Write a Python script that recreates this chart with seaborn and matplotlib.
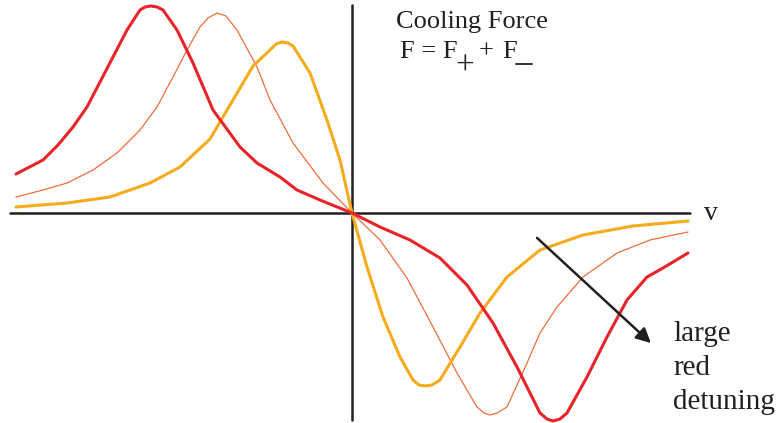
import matplotlib
matplotlib.use('Agg')
import pandas as pd
import seaborn as sns
import matplotlib.pyplot as plt

# velocity / force readings for the three detunings (arbitrary units)
v_red = [-3.36, -3.09, -2.94, -2.79, -2.65, -2.52, -2.39, -2.25, -2.12, -2.07, -2.01, -1.95, -1.89,
         -1.75, -1.59, -1.39, -1.12, -0.95, -0.72, -0.55, -0.32, 0.0, 0.28, 0.58, 0.88, 1.15,
         1.41, 1.65, 1.88, 1.95, 2.01, 2.08, 2.15, 2.35, 2.55, 2.75, 2.95, 3.11, 3.36]
f_red = [0.39, 0.53, 0.68, 0.86, 1.06, 1.31, 1.56, 1.83, 2.03, 2.06, 2.07, 2.06, 2.03,
         1.83, 1.50, 1.03, 0.66, 0.50, 0.36, 0.23, 0.13, 0.0, -0.14, -0.27, -0.45, -0.72,
         -1.10, -1.54, -2.00, -2.06, -2.08, -2.06, -2.00, -1.64, -1.24, -0.87, -0.64, -0.55, -0.40]

v_mid = [-3.36, -3.09, -2.85, -2.59, -2.35, -2.12, -1.95, -1.79, -1.65, -1.52, -1.44, -1.35, -1.26,
         -1.15, -0.95, -0.82, -0.59, -0.29, 0.0, 0.28, 0.55, 0.81, 1.05, 1.25, 1.32, 1.38, 1.45,
         1.55, 1.75, 1.88, 2.05, 2.31, 2.65, 2.98, 3.36]
f_mid = [0.16, 0.23, 0.30, 0.43, 0.60, 0.83, 1.06, 1.36, 1.63, 1.86, 1.95, 2.00, 1.97,
         1.83, 1.46, 1.13, 0.70, 0.30, 0.0, -0.27, -0.65, -1.14, -1.60, -1.94, -2.00, -2.02, -2.00,
         -1.94, -1.50, -1.20, -0.94, -0.64, -0.40, -0.27, -0.19]

v_small = [-3.36, -2.85, -2.42, -2.02, -1.72, -1.42, -1.19, -0.99, -0.82, -0.76, -0.70, -0.64,
           -0.59, -0.42, -0.25, -0.12, 0.0, 0.15, 0.31, 0.48, 0.61, 0.67, 0.73, 0.80, 0.88,
           1.08, 1.28, 1.55, 1.88, 2.31, 2.81, 3.36]
f_small = [0.06, 0.10, 0.16, 0.30, 0.46, 0.74, 1.13, 1.47, 1.63, 1.69, 1.71, 1.70,
           1.67, 1.40, 0.93, 0.53, 0.0, -0.54, -1.04, -1.44, -1.67, -1.72, -1.73, -1.72, -1.67,
           -1.34, -1.00, -0.64, -0.37, -0.22, -0.13, -0.08]

red = pd.DataFrame({'v': v_red, 'F': f_red})
mid = pd.DataFrame({'v': v_mid, 'F': f_mid})
small = pd.DataFrame({'v': v_small, 'F': f_small})

fig = plt.figure(figsize=(7.78, 4.23), dpi=100)
ax = fig.add_axes([0, 0, 1, 1])
sns.set_style('white')
plt.rcParams['font.family'] = ['Liberation Serif', 'DejaVu Serif']

ink = '#231f20'

# axes cross
ax.plot([-3.42, 3.38], [0, 0], color=ink, lw=1.8, zorder=1)
ax.plot([0, 0], [-2.07, 2.08], color=ink, lw=1.8, zorder=1)

sns.lineplot(data=red, x='v', y='F', sort=False, color='#e8242a', lw=2.2, ax=ax, zorder=3)
sns.lineplot(data=mid, x='v', y='F', sort=False, color='#ee6e3c', lw=0.9, ax=ax, zorder=2)
sns.lineplot(data=small, x='v', y='F', sort=False, color='#f5ab1b', lw=2.2, ax=ax, zorder=2)

ax.annotate('', xy=(3.01, -1.32), xytext=(1.83, -0.23),
            arrowprops=dict(arrowstyle='-|>', color=ink, lw=1.8, mutation_scale=22))

txt = dict(family='Liberation Serif', color=ink)
ax.text(1.20, 1.91, 'Cooling Force', fontsize=19, ha='center', va='center', **txt)
# F = F+ + F-
ax.text(0.48, 1.61, 'F = F', fontsize=19, ha='left', va='center', **txt)
ax.text(1.13, 1.47, '+', fontsize=24, ha='center', va='center', **txt)
ax.text(1.34, 1.61, '+', fontsize=19, ha='center', va='center', **txt)
ax.text(1.50, 1.61, 'F', fontsize=19, ha='left', va='center', **txt)
ax.plot([1.64, 1.80], [1.49, 1.49], color=ink, lw=1.3)

ax.text(3.52, 0.0, 'v', fontsize=20, ha='left', va='center', **txt)
ax.text(3.21, -1.55, 'large\nred\ndetuning', fontsize=21, ha='left', va='center',
        linespacing=1.42, **txt)

ax.set_xlim(-3.52, 4.26)
ax.set_ylim(-2.10, 2.13)
ax.set_axis_off()

plt.savefig('out.png', dpi=100)
plt.close()
